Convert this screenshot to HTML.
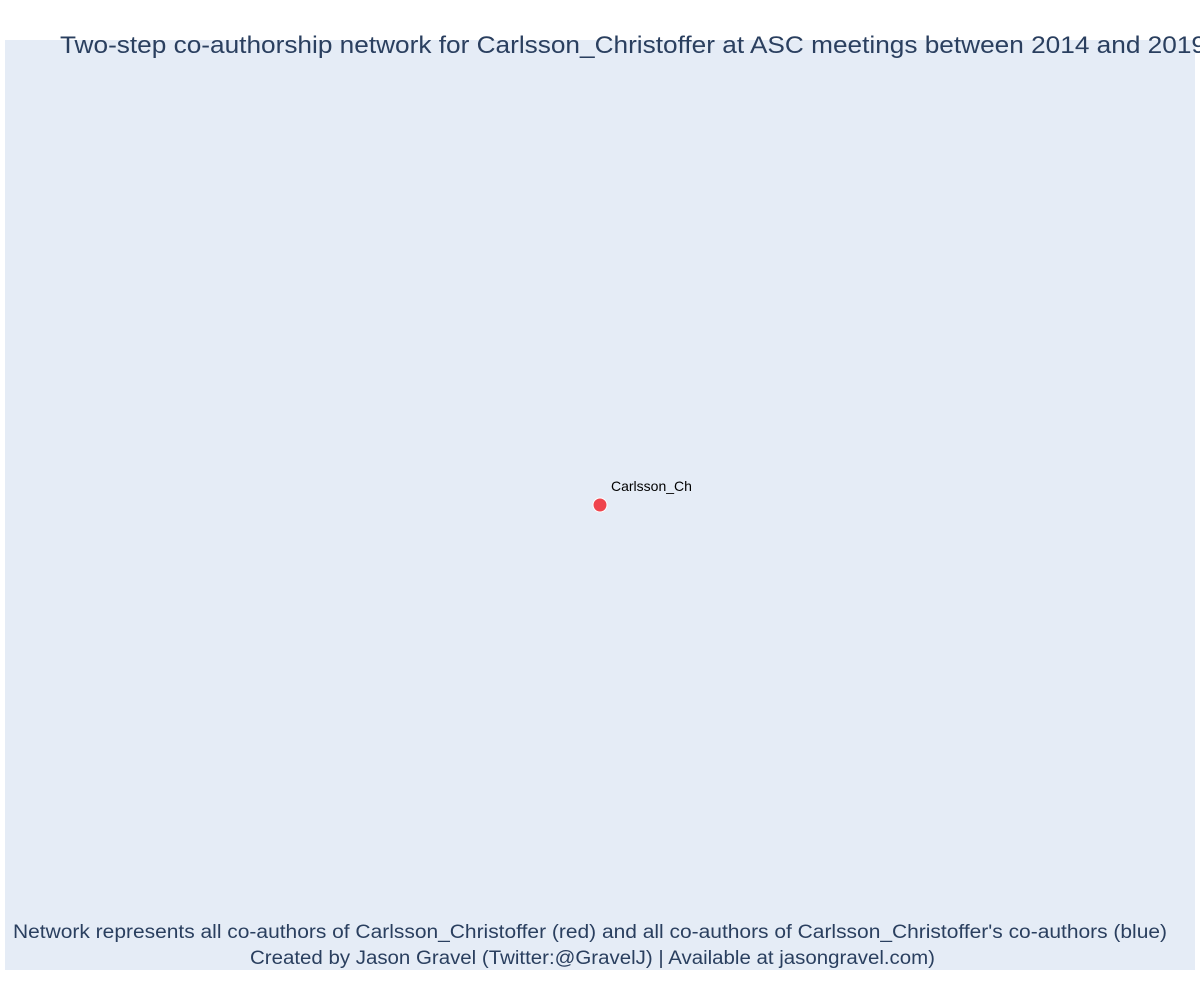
<!DOCTYPE html>
<html><head><meta charset="utf-8"><style>
body{margin:0;background:#fff;width:1200px;height:1000px;overflow:hidden}
svg text{font-family:"Liberation Sans",sans-serif;fill:#2a3f5f}
</style></head><body>
<svg id="chart" width="1200" height="1000" xmlns="http://www.w3.org/2000/svg">
<rect x="5" y="40" width="1190" height="930" fill="#e5ecf6"/>
<text x="60" y="53" font-size="24" textLength="1146" lengthAdjust="spacingAndGlyphs">Two-step co-authorship network for Carlsson_Christoffer at ASC meetings between 2014 and 2019</text>
<g id="nodes"></g>
<text x="13" y="938" font-size="19" textLength="1154" lengthAdjust="spacingAndGlyphs">Network represents all co-authors of Carlsson_Christoffer (red) and all co-authors of Carlsson_Christoffer's co-authors (blue)</text>
<text x="250" y="964" font-size="19" textLength="685" lengthAdjust="spacingAndGlyphs">Created by Jason Gravel (Twitter:@GravelJ) | Available at jasongravel.com)</text>
</svg>
<script>
const nodeNames=["Carlsson_Ch"];
const nodeX=[0];
const nodeY=[0];
const nodeColors=["#ef444d"];
const xs=v=>600+v*595, ys=v=>505-v*465;
const g=document.getElementById('nodes');
const NS="http://www.w3.org/2000/svg";
nodeNames.forEach((n,i)=>{
  const c=document.createElementNS(NS,'circle');
  c.setAttribute('cx',xs(nodeX[i]));c.setAttribute('cy',ys(nodeY[i]));c.setAttribute('r',7);
  c.setAttribute('fill',nodeColors[i]);c.setAttribute('stroke','#fff');c.setAttribute('stroke-width',1);
  
  
  g.appendChild(c);
  const t=document.createElementNS(NS,'text');
  t.setAttribute('x',xs(nodeX[i])+11);t.setAttribute('y',ys(nodeY[i])-14);
  t.setAttribute('font-size',14);t.setAttribute('style','fill:#000');
  t.textContent=n;
  
  
  g.appendChild(t);
});
</script>
</body></html>
